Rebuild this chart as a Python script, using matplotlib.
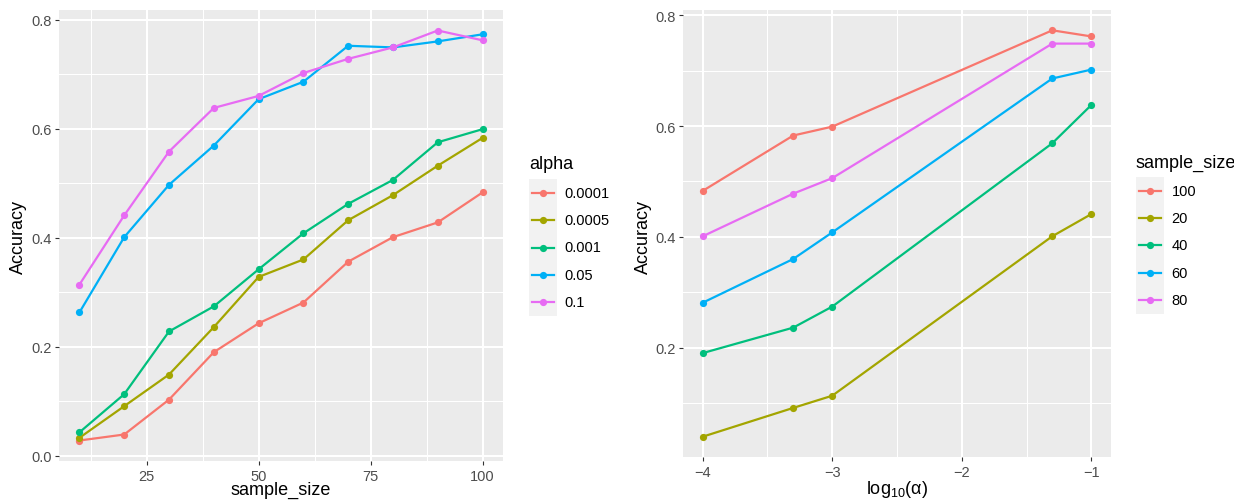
import numpy as np
import matplotlib
matplotlib.use("Agg")
import matplotlib.pyplot as plt
from matplotlib.patches import Rectangle
from matplotlib.lines import Line2D

# ---------------- data ----------------
sample_size = [10, 20, 30, 40, 50, 60, 70, 80, 90, 100]
alpha_labels = ["0.0001", "0.0005", "0.001", "0.05", "0.1"]
alpha_values = [0.0001, 0.0005, 0.001, 0.05, 0.1]

acc_alpha_0_0001 = [0.028, 0.039, 0.103, 0.190, 0.243, 0.281, 0.356, 0.401, 0.428, 0.483]
acc_alpha_0_0005 = [0.033, 0.091, 0.149, 0.236, 0.328, 0.360, 0.432, 0.478, 0.532, 0.583]
acc_alpha_0_001 = [0.043, 0.113, 0.228, 0.274, 0.342, 0.408, 0.462, 0.506, 0.575, 0.599]
acc_alpha_0_05 = [0.263, 0.401, 0.497, 0.569, 0.654, 0.686, 0.752, 0.749, 0.760, 0.773]
acc_alpha_0_1 = [0.314, 0.441, 0.558, 0.638, 0.660, 0.702, 0.728, 0.749, 0.780, 0.762]

acc_by_alpha = [acc_alpha_0_0001, acc_alpha_0_0005, acc_alpha_0_001,
                acc_alpha_0_05, acc_alpha_0_1]

# right panel: sample sizes in legend (lexical) order
right_sizes = [100, 20, 40, 60, 80]
right_labels = ["100", "20", "40", "60", "80"]

hue5 = ["#F8766D", "#A3A500", "#00BF7D", "#00B0F6", "#E76BF3"]

# ---------------- style ----------------
plt.rcParams["font.family"] = ["Liberation Sans", "DejaVu Sans"]
W, H = 1234, 502
fig = plt.figure(figsize=(W / 100, H / 100), dpi=100)
fig.patch.set_facecolor("white")

TICK_FS = 10.5
TITLE_FS = 13
LEG_FS = 10.5


def style_axes(ax, xmajor, xminor, ymajor, yminor):
    ax.set_facecolor("#EBEBEB")
    for s in ax.spines.values():
        s.set_visible(False)
    ax.set_xticks(xmajor)
    ax.set_xticks(xminor, minor=True)
    ax.set_yticks(ymajor)
    ax.set_yticks(yminor, minor=True)
    ax.grid(True, which="major", color="white", linewidth=1.45)
    ax.grid(True, which="minor", color="white", linewidth=0.72)
    ax.set_axisbelow(True)
    ax.tick_params(which="major", length=3.0, width=0.8, color="#333333",
                   labelcolor="#4D4D4D", labelsize=TICK_FS, pad=2.5)
    ax.tick_params(which="minor", length=0)


def expand(lo, hi, f=0.05):
    r = hi - lo
    return lo - f * r, hi + f * r


# ---------------- left panel ----------------
axL = fig.add_axes([59.3 / W, 40 / H, 443.4 / W, 451 / H])
for lab, col, acc in zip(alpha_labels, hue5, acc_by_alpha):
    axL.plot(sample_size, acc, color=col, linewidth=1.6, marker="o",
             markersize=5.2, markeredgewidth=0, label=lab)
allv = np.concatenate([np.array(a) for a in acc_by_alpha])
axL.set_xlim(*expand(min(sample_size), max(sample_size)))
axL.set_ylim(*expand(allv.min(), allv.max()))
style_axes(axL, [25, 50, 75, 100], [12.5, 37.5, 62.5, 87.5],
           [0.0, 0.2, 0.4, 0.6, 0.8], [0.1, 0.3, 0.5, 0.7])
axL.set_xticklabels(["25", "50", "75", "100"])
axL.set_yticklabels(["0.0", "0.2", "0.4", "0.6", "0.8"])

# ---------------- right panel ----------------
axR = fig.add_axes([683.3 / W, 44 / H, 427.4 / W, 447 / H])
log_alpha = np.log10(alpha_values)
rvals = []
for s, lab, col in zip(right_sizes, right_labels, hue5):
    idx = sample_size.index(s)
    ys = [acc[idx] for acc in acc_by_alpha]
    rvals.extend(ys)
    axR.plot(log_alpha, ys, color=col, linewidth=1.6, marker="o",
             markersize=5.2, markeredgewidth=0, label=lab)
axR.set_xlim(*expand(log_alpha.min(), log_alpha.max()))
axR.set_ylim(*expand(min(rvals), max(rvals)))
style_axes(axR, [-4, -3, -2, -1], [-3.5, -2.5, -1.5],
           [0.2, 0.4, 0.6, 0.8], [0.1, 0.3, 0.5, 0.7])
axR.set_xticklabels(["\u22124", "\u22123", "\u22122", "\u22121"])
axR.set_yticklabels(["0.2", "0.4", "0.6", "0.8"])

# ---------------- axis titles ----------------
def fx(x):
    return x / W


def fy(y):
    return 1 - y / H


fig.text(fx(281), fy(490), "sample_size", ha="center", va="center", fontsize=TITLE_FS)
fig.text(fx(18.5), fy(236.5), "Accuracy", ha="center", va="center",
         rotation=90, fontsize=TITLE_FS)
fig.text(fx(897), fy(490), r"$\mathregular{log_{10}(\alpha)}$", ha="center",
         va="center", fontsize=TITLE_FS)
fig.text(fx(643), fy(236.5), "Accuracy", ha="center", va="center",
         rotation=90, fontsize=TITLE_FS)


# ---------------- legends ----------------
def draw_legend(title, labels, x0, title_y, box_top, key_w, key_h):
    fig.text(fx(x0), fy(title_y), title, ha="left", va="center", fontsize=TITLE_FS)
    n = len(labels)
    fig.add_artist(Rectangle((fx(x0), fy(box_top + n * key_h)), key_w / W,
                             n * key_h / H, transform=fig.transFigure,
                             facecolor="#F2F2F2", edgecolor="none"))
    for i, (lab, col) in enumerate(zip(labels, hue5)):
        yc = box_top + (i + 0.5) * key_h
        fig.add_artist(Line2D([fx(x0 + 2.5), fx(x0 + key_w - 2.5)], [fy(yc), fy(yc)],
                              transform=fig.transFigure, color=col, linewidth=1.6))
        fig.add_artist(Line2D([fx(x0 + key_w / 2)], [fy(yc)], transform=fig.transFigure,
                              color=col, marker="o", markersize=5.2, markeredgewidth=0))
        fig.text(fx(x0 + key_w + 8), fy(yc), lab, ha="left", va="center",
                 fontsize=LEG_FS)


draw_legend("alpha", alpha_labels, 529, 165, 180, 27.5, 27.4)
draw_legend("sample_size", right_labels, 1136, 163, 178, 27.5, 27.3)

fig.savefig("out.png", dpi=100, facecolor="white")
